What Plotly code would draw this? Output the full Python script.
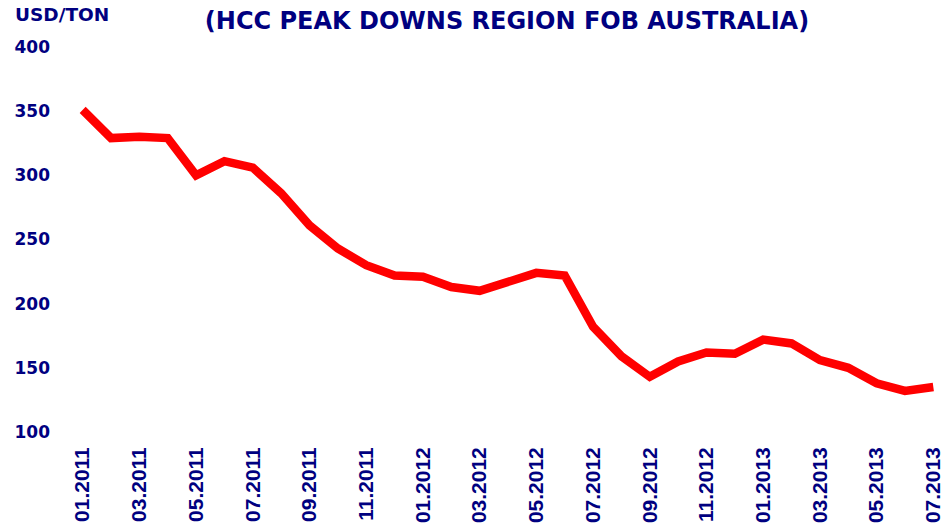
import plotly.graph_objects as go

months = [
    "01.2011", "02.2011", "03.2011", "04.2011", "05.2011", "06.2011",
    "07.2011", "08.2011", "09.2011", "10.2011", "11.2011", "12.2011",
    "01.2012", "02.2012", "03.2012", "04.2012", "05.2012", "06.2012",
    "07.2012", "08.2012", "09.2012", "10.2012", "11.2012", "12.2012",
    "01.2013", "02.2013", "03.2013", "04.2013", "05.2013", "06.2013",
    "07.2013",
]
price = [
    351, 329, 330, 329, 300, 311, 306, 286, 261, 243, 230, 222,
    221, 213, 210, 217, 224, 222, 182, 159, 143, 155, 162, 161,
    172, 169, 156, 150, 138, 132, 135,
]
tick_labels = months[::2]
y_ticks = [100, 150, 200, 250, 300, 350, 400]

NAVY = "#000080"
ARIAL = "Liberation Sans, Arial, sans-serif"
WIDE = "DejaVu Sans, Verdana, sans-serif"

L, R, T, B = 77, 2, 47, 96
plot_w = 941 - L - R
plot_h = 528 - T - B

fig = go.Figure()
fig.add_trace(
    go.Scatter(
        x=months,
        y=price,
        mode="lines",
        line=dict(color="#FF0000", width=8.5),
        hoverinfo="x+y",
    )
)

fig.update_layout(
    width=941,
    height=528,
    margin=dict(l=L, r=R, t=T, b=B, autoexpand=False),
    paper_bgcolor="white",
    plot_bgcolor="white",
    showlegend=False,
    font=dict(family=ARIAL, color=NAVY),
    title=dict(
        text="<b>(HCC PEAK DOWNS REGION FOB AUSTRALIA)</b>",
        x=507 / 941,
        xanchor="center",
        xref="container",
        y=1 - 21 / 528,
        yanchor="middle",
        yref="container",
        automargin=False,
        font=dict(size=24, color=NAVY, family=WIDE),
    ),
    annotations=[
        dict(
            text="<b>USD/TON</b>",
            xref="paper",
            yref="paper",
            x=-(L - 13) / plot_w,
            y=1 + 32 / plot_h,
            xanchor="left",
            yanchor="middle",
            showarrow=False,
            font=dict(size=18.5, color=NAVY, family=WIDE),
        )
    ],
)

fig.update_xaxes(
    type="category",
    range=[-0.2, 30.2],
    tickmode="array",
    tickvals=tick_labels,
    ticktext=[f"<b>{t}</b>" for t in tick_labels],
    tickangle=-90,
    tickfont=dict(size=21, color=NAVY, family=ARIAL),
    showgrid=False,
    showline=False,
    zeroline=False,
    ticks="",
    automargin=False,
    ticklabelstandoff=10,
)
fig.update_yaxes(
    range=[100, 400],
    tickmode="array",
    tickvals=y_ticks,
    ticktext=[f"<b>{v}</b>" for v in y_ticks],
    tickfont=dict(size=17, color=NAVY, family=WIDE),
    showgrid=False,
    showline=False,
    zeroline=False,
    ticks="",
    automargin=False,
    ticklabelstandoff=26,
)

# drop the default 8px page margin so the figure fills the window exactly
fig.write_html(
    "out.html",
    config={"displayModeBar": False},
    post_script="document.body.style.margin='0';document.body.style.overflow='hidden';",
)
